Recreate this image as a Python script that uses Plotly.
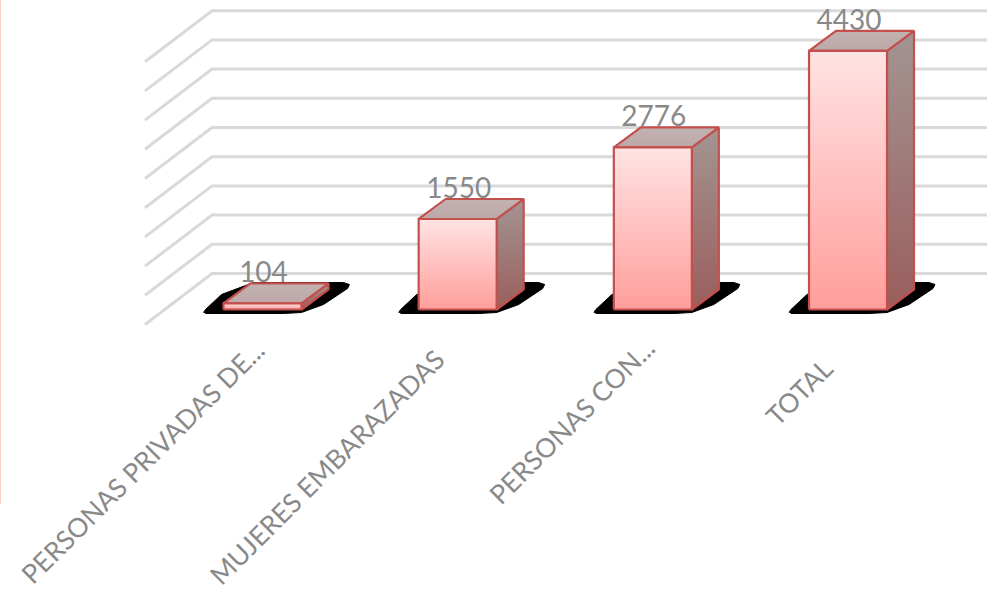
import plotly.graph_objects as go

# --- data ---
categories = ["PERSONAS PRIVADAS DE...", "MUJERES EMBARAZADAS", "PERSONAS CON...", "TOTAL"]
values = [104, 1550, 2776, 4430]
grid_levels = [0, 500, 1000, 1500, 2000, 2500, 3000, 3500, 4000, 4500]

# --- layout constants (pixel scale of the axes) ---
W, H = 987, 594
PX_X = 195.17      # px per category
PX_Y = 0.0584      # px per value unit
X0, Y0 = 262.5, 309.5   # pixel position of category 0, value 0
ux = lambda p: p / PX_X
uy = lambda p: p / PX_Y
BAR_W = ux(78)
DX, DY = ux(27), uy(20)          # bar depth
BACK_DY = uy(Y0 - 273.5)         # back wall floor offset
WALL_X0 = ux(212 - X0)
WALL_DX, WALL_DY = ux(-67), uy(-51)
GREY, GRID, EDGE = "#898989", "#D9D9D9", "#C4504E"

fig = go.Figure()

# gridlines: back wall and left wall
gx, gy = [], []
right = ux(W + 5 - X0)
for g in grid_levels:
    b = g + BACK_DY
    gx += [WALL_X0 + WALL_DX, WALL_X0, right, None]
    gy += [b + WALL_DY, b, b, None]
fig.add_trace(go.Scatter(x=gx, y=gy, mode="lines", line=dict(color=GRID, width=3),
                         hoverinfo="skip", showlegend=False))

# shadow outline relative to the front-left base corner of each bar, in px
shadow = [(-20, 3), (-18, 0), (-2, -15), (30, -27), (108, -27), (120, -27), (126, -25), (124, -21),
          (100, -5), (90, -1), (78, 3), (60, 4), (-18, 4)]
for i, c in enumerate(categories):
    left = i - BAR_W / 2
    fig.add_trace(go.Scatter(x=[left + ux(p[0]) for p in shadow], y=[uy(-p[1]) for p in shadow],
                             mode="lines", fill="toself", fillcolor="black",
                             line=dict(color="black", width=1),
                             hoverinfo="skip", showlegend=False))

def face(xs, ys, bottom, top, name):
    grad = dict(type="vertical", colorscale=[[0, bottom], [1, top]])
    return go.Scatter(x=xs, y=ys, mode="lines", fill="toself", fillgradient=grad,
                      line=dict(color=EDGE, width=2.2), name=name, hoverinfo="skip", showlegend=False)

for i, (c, v) in enumerate(zip(categories, values)):
    l, r = i - BAR_W / 2, i + BAR_W / 2
    fig.add_trace(face([r, r + DX, r + DX, r, r], [0, DY, v + DY, v, 0], "#9A5E5C", "#A39593", c + " side"))
    fig.add_trace(face([l, r, r + DX, l + DX, l], [v, v, v + DY, v + DY, v], "#BDA8A8", "#C3B2B2", c + " top"))
    fig.add_trace(face([l, r, r, l, l], [0, 0, v, v, 0], "#FF9E9B", "#FFE3E3", c))

# value labels
fig.add_trace(go.Scatter(x=[i + ux(1) for i in range(len(values))], y=[v + uy(28) for v in values],
                         text=[str(v) for v in values], mode="text", textposition="middle center",
                         textfont=dict(family="Lato", size=28, color=GREY),
                         hoverinfo="skip", showlegend=False))

# category labels
label_anchor = [(11, 22), (-4, 31), (11, 20), (-6, 40)]
for i, (c, a) in enumerate(zip(categories, label_anchor)):
    fig.add_annotation(x=i + ux(a[0]), y=uy(-a[1]), text=c, showarrow=False, textangle=-45,
                       xanchor="right", yanchor="top",
                       font=dict(family="Lato", size=26.5, color=GREY))

fig.add_shape(type="line", xref="paper", yref="paper", x0=0, x1=0, y0=1 - 504 / H, y1=1,
              line=dict(color="#F6CFCD", width=2))

fig.update_layout(width=W, height=H, margin=dict(l=0, r=0, t=0, b=0),
                  paper_bgcolor="white", plot_bgcolor="white", showlegend=False,
                  xaxis=dict(visible=False, range=[ux(-X0), ux(W - X0)]),
                  yaxis=dict(visible=False, range=[uy(Y0 - H), uy(Y0)]))
fig.write_html("out.html", config=dict(displayModeBar=False),
               post_script="document.body.style.margin='0';document.body.style.overflow='hidden';")
